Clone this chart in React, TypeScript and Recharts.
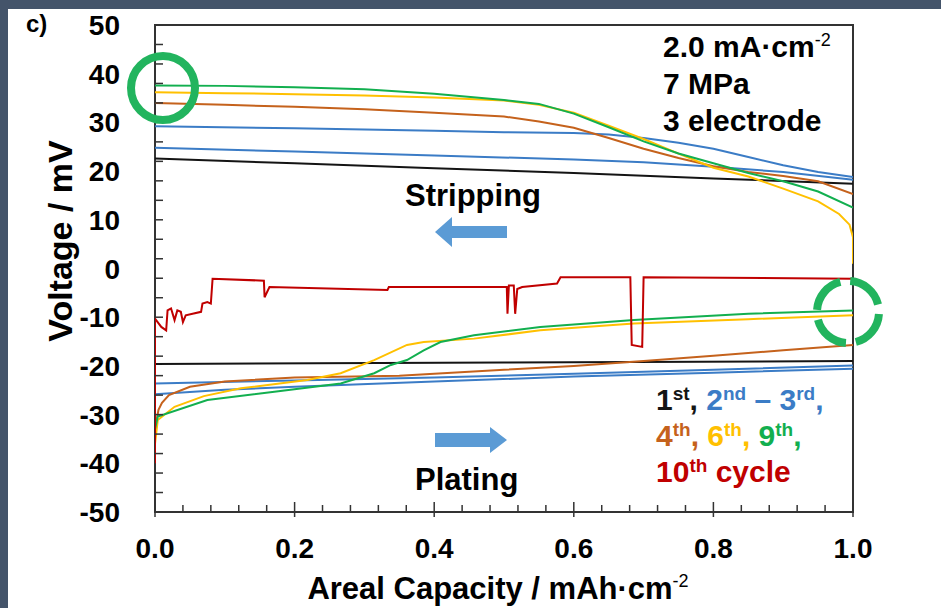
import React from 'react';
import { LineChart, Line, XAxis, YAxis, ReferenceArea } from 'recharts';

const FONT = '"Liberation Sans", Arial, sans-serif';
const AXIS = '#333';

const CLR = {
  first: '#141414',
  blue: '#3b7cc6',
  fourth: '#c5621c',
  sixth: '#ffc000',
  ninth: '#12af4f',
  tenth: '#c00000',
};

// ticks
const xTicks = [0, 0.04, 0.08, 0.12, 0.16, 0.2, 0.24, 0.28, 0.32, 0.36, 0.4, 0.44, 0.48, 0.52, 0.56, 0.6, 0.64, 0.68, 0.72, 0.76, 0.8, 0.84, 0.88, 0.92, 0.96, 1];
const xMajor = [0, 0.2, 0.4, 0.6, 0.8, 1];
const yMajor = [-50, -40, -30, -20, -10, 0, 10, 20, 30, 40, 50];
const yMinor = [-50, -46, -42, -38, -34, -30, -26, -22, -18, -14, -10, -6, -2, 2, 6, 10, 14, 18, 22, 26, 30, 34, 38, 42, 46, 50];
const yTicks = Array.from(new Set([...yMajor, ...yMinor])).sort((a, b) => a - b);

// [capacity mAh/cm2, voltage mV]  -- stripping (upper) and plating (lower) per cycle
const cyc1Strip = [[0, 22.6], [0.2, 21.6], [0.4, 20.6], [0.6, 19.6], [0.8, 18.5], [1, 17.4]];
const cyc1Plate = [[0, -19.6], [0.5, -19.3], [1, -19.0]];

const cyc2Strip = [[0, 29.2], [0.2, 28.8], [0.4, 28.3], [0.5, 28.0], [0.6, 27.8], [0.65, 27.5], [0.7, 26.8], [0.75, 25.8], [0.8, 24.6], [0.85, 22.9], [0.9, 21.2], [0.95, 19.8], [1, 18.8]];
const cyc2Plate = [[0, -23.6], [0.2, -23.0], [0.4, -22.4], [0.6, -21.6], [0.8, -20.8], [1, -19.9]];

const cyc3Strip = [[0, 24.8], [0.2, 24.0], [0.4, 23.2], [0.6, 22.4], [0.7, 21.8], [0.8, 20.9], [0.9, 19.8], [1, 18.2]];
const cyc3Plate = [[0, -25.8], [0.1, -24.9], [0.2, -24.3], [0.4, -23.2], [0.6, -22.2], [0.8, -21.4], [1, -20.6]];

const cyc4Strip = [[0, 34.0], [0.1, 33.6], [0.2, 33.2], [0.3, 32.7], [0.4, 32.0], [0.5, 31.2], [0.55, 30.2], [0.6, 28.9], [0.65, 26.8], [0.7, 24.6], [0.75, 22.7], [0.8, 21.0], [0.85, 19.8], [0.9, 19.0], [0.95, 17.9], [1, 15.3]];
const cyc4Plate = [[0, -33], [0.005, -29], [0.01, -27.6], [0.02, -26], [0.05, -24.3], [0.1, -23.2], [0.2, -22.4], [0.35, -22.0], [0.5, -20.8], [0.6, -20.0], [0.7, -19.0], [0.8, -17.9], [0.9, -16.8], [1, -15.7]];

const cyc6Strip = [[0, 36.2], [0.1, 36.0], [0.2, 35.8], [0.3, 35.5], [0.4, 35.1], [0.5, 34.5], [0.55, 33.6], [0.6, 32.0], [0.65, 29.3], [0.7, 26.6], [0.75, 23.6], [0.8, 20.7], [0.85, 18.9], [0.9, 16.4], [0.95, 13.8], [0.98, 11.2], [0.995, 9], [1, 6.4], [1, 1]];
const cyc6Plate = [[0, -36], [0.004, -31.1], [0.028, -28.4], [0.07, -26.2], [0.123, -24.6], [0.218, -22.9], [0.266, -21.5], [0.314, -18.8], [0.361, -15.7], [0.385, -15.1], [0.457, -14.4], [0.552, -12.7], [0.686, -11.3], [0.85, -10.4], [1, -9.6]];

const cyc9Strip = [[0, 37.6], [0.1, 37.5], [0.2, 37.2], [0.3, 36.8], [0.4, 35.9], [0.5, 34.6], [0.55, 33.8], [0.6, 31.8], [0.65, 29.0], [0.7, 26.1], [0.75, 23.6], [0.8, 21.6], [0.85, 19.6], [0.9, 17.9], [0.95, 15.8], [1, 12.5]];
const cyc9Plate = [[0, -33], [0.004, -30.4], [0.075, -27.0], [0.171, -25.3], [0.266, -23.6], [0.314, -21.5], [0.338, -19.8], [0.361, -18.8], [0.385, -16.8], [0.409, -15.1], [0.457, -13.7], [0.552, -12.0], [0.686, -10.6], [0.85, -9.3], [1, -8.6]];

const cyc10Plate = [[0, -40], [0, -10.3], [0.009, -12.0], [0.016, -12.7], [0.018, -8.6], [0.023, -8.2], [0.028, -10.6], [0.032, -8.6], [0.037, -8.9], [0.04, -11.0], [0.044, -9.6], [0.066, -8.9], [0.068, -7.2], [0.075, -6.9], [0.08, -7.2], [0.0825, -2.1], [0.156, -2.5], [0.157, -5.9], [0.164, -3.8], [0.333, -4.4], [0.335, -3.8], [0.504, -3.8], [0.505, -9.3], [0.507, -3.5], [0.514, -3.5], [0.516, -9.3], [0.519, -4.2], [0.526, -3.8], [0.576, -3.1], [0.581, -1.8], [0.681, -1.8], [0.683, -15.7], [0.698, -16.1], [0.7, -1.8], [1, -2.1]];

const series = [
  { id: 'c3s', data: cyc3Strip, color: CLR.blue },
  { id: 'c3p', data: cyc3Plate, color: CLR.blue },
  { id: 'c2s', data: cyc2Strip, color: CLR.blue },
  { id: 'c2p', data: cyc2Plate, color: CLR.blue },
  { id: 'c1s', data: cyc1Strip, color: CLR.first },
  { id: 'c1p', data: cyc1Plate, color: CLR.first },
  { id: 'c4s', data: cyc4Strip, color: CLR.fourth },
  { id: 'c4p', data: cyc4Plate, color: CLR.fourth },
  { id: 'c6s', data: cyc6Strip, color: CLR.sixth },
  { id: 'c6p', data: cyc6Plate, color: CLR.sixth },
  { id: 'c9s', data: cyc9Strip, color: CLR.ninth },
  { id: 'c9p', data: cyc9Plate, color: CLR.ninth },
  { id: 'c10p', data: cyc10Plate, color: CLR.tenth },
];

const toPts = (arr: number[][]) => arr.map(([x, v]) => ({ x, v }));

function YTick({ x, y, payload }: any) {
  const v = payload.value;
  return (
    <g>
      {yMinor.includes(v) && <line x1={x} x2={x + 8} y1={y} y2={y} stroke={AXIS} strokeWidth={1.5} />}
      {yMajor.includes(v) && (
        <text x={x - 35} y={y} dy="0.36em" textAnchor="end" fontFamily={FONT} fontWeight="bold" fontSize={28} fill="#000">
          {v}
        </text>
      )}
    </g>
  );
}

function XTick({ x, y, payload }: any) {
  const v = payload.value;
  const major = xMajor.includes(v);
  return (
    <g>
      <line x1={x} x2={x} y1={major ? y + 5 : y} y2={major ? y - 10 : y - 7} stroke={AXIS} strokeWidth={1.5} />
      {major && (
        <text x={x} y={y + 36} dy="0.36em" textAnchor="middle" fontFamily={FONT} fontWeight="bold" fontSize={28} fill="#000">
          {v.toFixed(1)}
        </text>
      )}
    </g>
  );
}

const txt = { fontFamily: FONT, fontWeight: 'bold' as const, fontSize: 30 };

export default function App() {
  return (
    <div style={{ position: 'absolute', left: 0, top: 0, width: 941, height: 608, background: '#44546a', overflow: 'hidden' }}>
      <div style={{ position: 'absolute', left: 8, top: 9, width: 933, height: 599, background: '#fff' }} />
      <div style={{ position: 'absolute', left: 0, top: 0 }}>
        <LineChart width={941} height={608} margin={{ top: 25, right: 88, bottom: 95, left: 154 }}>
          <XAxis dataKey="x" type="number" domain={[0, 1]} ticks={xTicks} interval={0} allowDataOverflow
            height={1} axisLine={false} tickLine={false} tickSize={0} tickMargin={0} tick={<XTick />} />
          <YAxis type="number" domain={[-50, 50]} ticks={yTicks} interval={0} allowDataOverflow
            width={1} axisLine={false} tickLine={false} tickSize={0} tickMargin={0} tick={<YTick />} />
          <ReferenceArea x1={0} x2={1} y1={-50} y2={50} fill="none" fillOpacity={0} stroke={AXIS} strokeWidth={2} />
          {series.map(s => (
            <Line key={s.id} data={toPts(s.data)} dataKey="v" type="linear" stroke={s.color} strokeWidth={2}
              dot={false} activeDot={false} isAnimationActive={false} />
          ))}
        </LineChart>
      </div>
      <svg width={941} height={608} style={{ position: 'absolute', left: 0, top: 0, pointerEvents: 'none' }}>
        <text x={26} y={32} fontFamily={FONT} fontWeight="bold" fontSize={24} fill="#000">c)</text>

        <text transform="translate(60,241) rotate(-90)" textAnchor="middle" dominantBaseline="central" {...txt} fontSize={34} fill="#000">
          Voltage / mV
        </text>
        <text x={498} y={599} textAnchor="middle" {...txt} fontSize={31} fill="#000">
          Areal Capacity / mAh·cm<tspan dy={-12} fontSize={18} fontWeight="normal">-2</tspan>
        </text>

        <text x={663} y={57} {...txt} fill="#000">
          2.0 mA·cm<tspan dy={-11} fontSize={18} fontWeight="normal">-2</tspan>
        </text>
        <text x={663} y={94} {...txt} fill="#000">7 MPa</text>
        <text x={663} y={131} {...txt} fill="#000">3 electrode</text>

        <text x={405} y={206} {...txt} fontSize={31} fill="#000">Stripping</text>
        <polygon points="435,232 452,217 452,226 507,226 507,238 452,238 452,247" fill="#5b9bd5" />
        <polygon points="507,440 490,427 490,433 435,433 435,447 490,447 490,453" fill="#5b9bd5" />
        <text x={415} y={490} {...txt} fontSize={31} fill="#000">Plating</text>

        <text x={656} y={410} {...txt}>
          <tspan fill={CLR.first}>1</tspan>
          <tspan fill={CLR.first} dy={-10} fontSize={19}>st</tspan>
          <tspan fill={CLR.first} dy={10}>, </tspan>
          <tspan fill={CLR.blue}>2</tspan>
          <tspan fill={CLR.blue} dy={-10} fontSize={19}>nd</tspan>
          <tspan fill={CLR.blue} dy={10}> – 3</tspan>
          <tspan fill={CLR.blue} dy={-10} fontSize={19}>rd</tspan>
          <tspan fill={CLR.blue} dy={10}>,</tspan>
        </text>
        <text x={656} y={446} {...txt}>
          <tspan fill={CLR.fourth}>4</tspan>
          <tspan fill={CLR.fourth} dy={-10} fontSize={19}>th</tspan>
          <tspan fill={CLR.fourth} dy={10}>, </tspan>
          <tspan fill={CLR.sixth}>6</tspan>
          <tspan fill={CLR.sixth} dy={-10} fontSize={19}>th</tspan>
          <tspan fill={CLR.sixth} dy={10}>, </tspan>
          <tspan fill={CLR.ninth}>9</tspan>
          <tspan fill={CLR.ninth} dy={-10} fontSize={19}>th</tspan>
          <tspan fill={CLR.ninth} dy={10}>,</tspan>
        </text>
        <text x={656} y={482} {...txt} fill={CLR.tenth}>
          <tspan>10</tspan>
          <tspan dy={-10} fontSize={19}>th</tspan>
          <tspan dy={10}> cycle</tspan>
        </text>

        <circle cx={163} cy={88} r={32} fill="none" stroke="#22b45e" strokeWidth={8} />
        <circle cx={848} cy={312} r={31} fill="none" stroke="#22b45e" strokeWidth={8} strokeDasharray="38.7 10" strokeDashoffset={-2} />
      </svg>
    </div>
  );
}
